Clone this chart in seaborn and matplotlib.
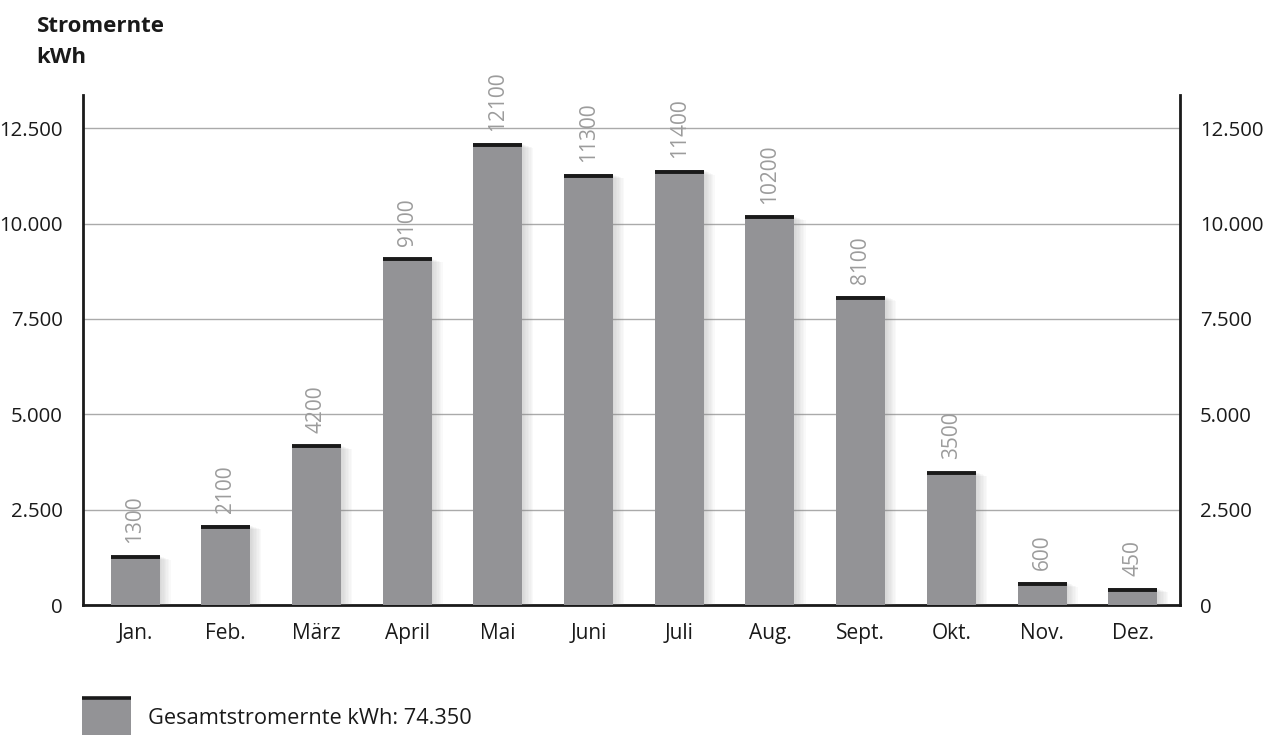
import matplotlib
matplotlib.use("Agg")
import matplotlib.pyplot as plt
import matplotlib.patheffects as pe
import seaborn as sns
import pandas as pd

months = ["Jan.", "Feb.", "März", "April", "Mai", "Juni", "Juli", "Aug.", "Sept.", "Okt.", "Nov.", "Dez."]
values = [1300, 2100, 4200, 9100, 12100, 11300, 11400, 10200, 8100, 3500, 600, 450]
yticks = [0, 2500, 5000, 7500, 10000, 12500]
ytick_labels = ["0", "2.500", "5.000", "7.500", "10.000", "12.500"]
title_text = "Stromernte\nkWh"
legend_text = "Gesamtstromernte kWh: 74.350"

sns.set_style("white")
plt.rcParams["font.family"] = ["Open Sans", "DejaVu Sans"]

df = pd.DataFrame({"Monat": months, "kWh": values})

fig = plt.figure(figsize=(12.66, 7.38), dpi=100)
ax = fig.add_axes([0.0656, 0.180, 0.8664, 0.691])

bar_color = "#939396"
sns.barplot(data=df, x="Monat", y="kWh", color=bar_color, width=0.54,
            saturation=1, ax=ax, zorder=3, edgecolor="none")

shadow = [pe.SimplePatchShadow(offset=(i, -0.4 * i), shadow_rgbFace="#8a8a8a", alpha=0.045)
          for i in range(1, 9)]
for p in ax.patches:
    p.set_path_effects(shadow + [pe.Normal()])

# black cap lines on top of bars
for p, v in zip(ax.patches, values):
    x0 = p.get_x()
    w = p.get_width()
    ax.hlines(v - 40, x0, x0 + w, color="#1a1a1a", lw=2.8, zorder=4)
    ax.text(x0 + w / 2, v + 320, str(v), rotation=90, ha="center", va="bottom",
            fontsize=15, color="#9c9c9c", zorder=5)

ax.set_xlim(-0.573, 11.52)
ax.set_ylim(0, 13365)
ax.set_yticks(yticks)
ax.set_yticklabels(ytick_labels)
ax.yaxis.grid(True, color="#aaaaaa", lw=1)
ax.set_axisbelow(True)
ax.tick_params(axis="y", which="both", left=False, right=False, labelleft=True,
               labelright=True, labelsize=14.7, pad=11, colors="#1a1a1a")
ax.tick_params(axis="x", bottom=False, labelsize=15, pad=9, colors="#1a1a1a")
ax.set_xlabel("")
ax.set_ylabel("")

for s in ["left", "bottom", "right"]:
    ax.spines[s].set_visible(True)
    ax.spines[s].set_color("#1a1a1a")
    ax.spines[s].set_linewidth(2)
ax.spines["top"].set_visible(False)

fig.text(0.029, 0.978, title_text, ha="left", va="top", fontsize=16,
         fontweight="bold", color="#1a1a1a", linespacing=1.62)

# legend
lax = fig.add_axes([0.0648, 0.004, 0.039, 0.053])
lax.set_xlim(0, 1)
lax.set_ylim(0, 1)
lax.axis("off")
lax.add_patch(plt.Rectangle((0, 0), 1, 0.93, color=bar_color))
lax.hlines(0.94, 0, 1, color="#1a1a1a", lw=2.6)
fig.text(0.117, 0.027, legend_text, ha="left", va="center", fontsize=15.7, color="#1a1a1a")

fig.savefig("out.png", dpi=100)
